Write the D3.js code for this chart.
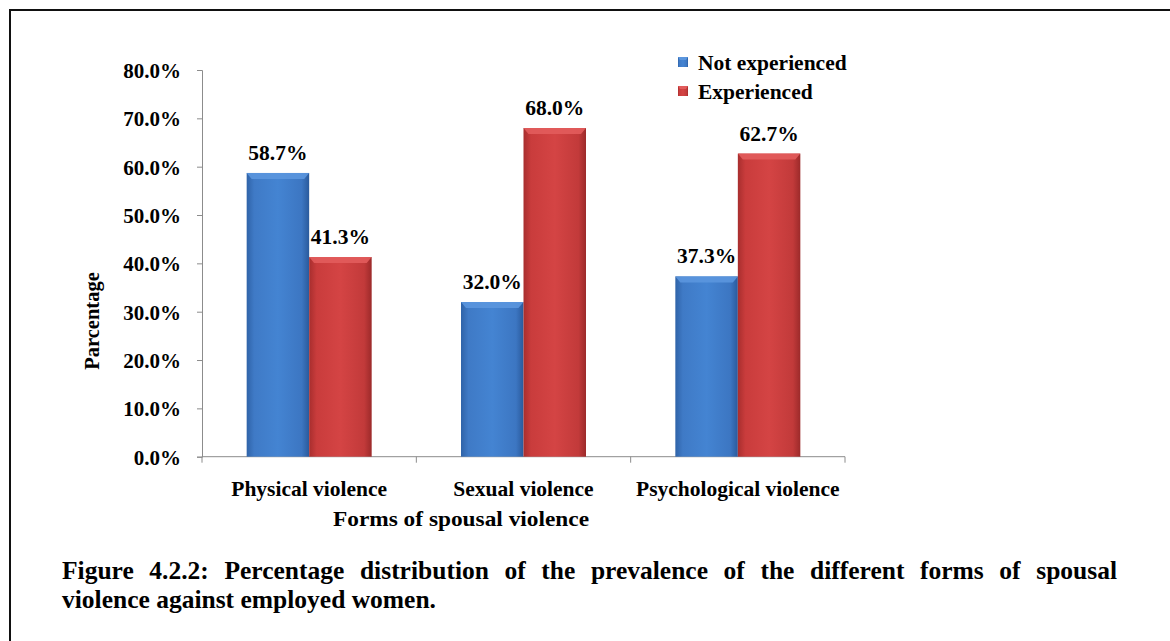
<!DOCTYPE html>
<html><head><meta charset="utf-8">
<script src="https://cdn.jsdelivr.net/npm/d3@7"></script>
<style>
body{margin:0;background:#fff;}
svg{display:block;font-family:"Liberation Serif","Times New Roman",serif;font-weight:bold;}
</style></head><body>
<svg id="c" width="1170" height="641"></svg>
<script>
const categories = ["Physical violence","Sexual violence","Psychological violence"];
const seriesNames = ["Not experienced","Experienced"];
const notExperienced = [58.7, 32.0, 37.3];
const experienced = [41.3, 68.0, 62.7];
const yTicks = [0,10,20,30,40,50,60,70,80];
const captionLine1 = "Figure 4.2.2: Percentage distribution of the prevalence of the different forms of spousal";
const captionLine2 = "violence against employed women.";
const xTitle = "Forms of spousal violence";
const yTitle = "Parcentage";

const svg = d3.select("#c");
const defs = svg.append("defs");
function grad(id, stops){
  const g = defs.append("linearGradient").attr("id",id).attr("x1","0").attr("x2","1").attr("y1","0").attr("y2","0");
  stops.forEach(s=>g.append("stop").attr("offset",s[0]).attr("stop-color",s[1]));
}
grad("gBlue",[[0,"#2f63a8"],[0.12,"#3f7ac6"],[0.5,"#4484d2"],[0.88,"#3c76c2"],[1,"#2a5a9c"]]);
grad("gRed",[[0,"#a82e2e"],[0.12,"#c93c3c"],[0.5,"#d44444"],[0.88,"#c23a3a"],[1,"#9c2a2a"]]);
const colors = ["url(#gBlue)","url(#gRed)"];
const topColors = ["#5b96de","#e25c5c"];

// frame
svg.append("rect").attr("x",10).attr("y",10).attr("width",1170).attr("height",700)
  .attr("fill","none").attr("stroke","#111").attr("stroke-width",2);

const x = d3.scaleBand().domain(categories).range([202,845]);
const x1 = d3.scaleBand().domain(seriesNames).range([0,125]);
const y = d3.scaleLinear().domain([0,80]).range([456.7,70]);

// y axis
const yAxis = d3.axisLeft(y).tickValues(yTicks).tickSize(5).tickFormat(d=>d.toFixed(1)+"%");
const ya = svg.append("g").attr("transform","translate(202,0)").call(yAxis);
ya.selectAll("line,path").attr("stroke","#8c8c8c");
ya.selectAll("text").attr("font-size",21).attr("font-family","Liberation Serif").attr("font-weight","bold").attr("fill","#000").attr("x",-21).attr("dy","0.35em");

// x axis
const xAxis = d3.axisBottom(x).tickSize(0);
const xa = svg.append("g").attr("transform","translate(0,456.7)").call(xAxis);
xa.select("path").attr("stroke","#8c8c8c");
xa.selectAll("text").attr("font-size",21.5).attr("font-family","Liberation Serif").attr("font-weight","bold").attr("fill","#000").attr("y",39).attr("dy",0);
const edges = categories.map(c=>x(c)).concat([x.range()[1]]);
xa.selectAll(".edge").data(edges).enter().append("line").attr("class","edge")
  .attr("x1",d=>d).attr("x2",d=>d).attr("y1",0).attr("y2",6).attr("stroke","#8c8c8c");
xa.select("path").attr("d","M202,0H845");

// bars
const data = categories.map((c,i)=>({cat:c, vals:[notExperienced[i], experienced[i]]}));
const groups = svg.append("g").selectAll("g").data(data).enter().append("g")
  .attr("transform",d=>`translate(${x(d.cat)+x.bandwidth()/2-62.5},0)`);
groups.each(function(d){
  const g = d3.select(this);
  d.vals.forEach((v,si)=>{
    const bx = x1(seriesNames[si]), bw = x1.bandwidth();
    const by = y(v), bh = y(0)-y(v);
    g.append("rect").attr("x",bx).attr("y",by).attr("width",bw).attr("height",bh).attr("fill",colors[si]);
    g.append("path").attr("d",`M${bx},${by}H${bx+bw}L${bx+bw-5},${by+6}H${bx+5}Z`).attr("fill",topColors[si]).attr("opacity",0.9);
    g.append("text").attr("x",bx+bw/2).attr("y",by-13).attr("text-anchor","middle")
      .attr("font-size",21.5).text(v.toFixed(1)+"%");
  });
});

// legend
const lg = svg.append("g").attr("transform","translate(682,62)");
seriesNames.forEach((s,i)=>{
  lg.append("rect").attr("x",-4).attr("y",i*29-5).attr("width",10).attr("height",10).attr("fill",colors[i]);
  lg.append("path").attr("d",`M-4,${i*29-5}h10l-2,3h-6z`).attr("fill",topColors[i]);
  lg.append("text").attr("x",16).attr("y",i*29).attr("dy","0.35em").attr("font-size",21.5).text(s);
});

// axis titles
svg.append("text").attr("x",461).attr("y",526).attr("text-anchor","middle").attr("font-size",22)
  .attr("textLength",256).attr("lengthAdjust","spacingAndGlyphs").text(xTitle);
svg.append("text").attr("transform","translate(99,321) rotate(-90)").attr("text-anchor","middle").attr("font-size",20.5).text(yTitle);

// caption (justified first line)
const capSize = 25.5;
const words = captionLine1.split(" ");
const tmp = svg.append("g");
const widths = words.map(w=>{const t=tmp.append("text").attr("font-size",capSize).text(w); return t.node().getComputedTextLength();});
tmp.remove();
const left = 62, right = 1117;
const gap = (right-left-d3.sum(widths))/(words.length-1);
let cx = left;
words.forEach((w,i)=>{
  svg.append("text").attr("x",cx).attr("y",579).attr("font-size",capSize).text(w);
  cx += widths[i]+gap;
});
svg.append("text").attr("x",left).attr("y",608).attr("font-size",capSize).text(captionLine2);
</script>
</body></html>
